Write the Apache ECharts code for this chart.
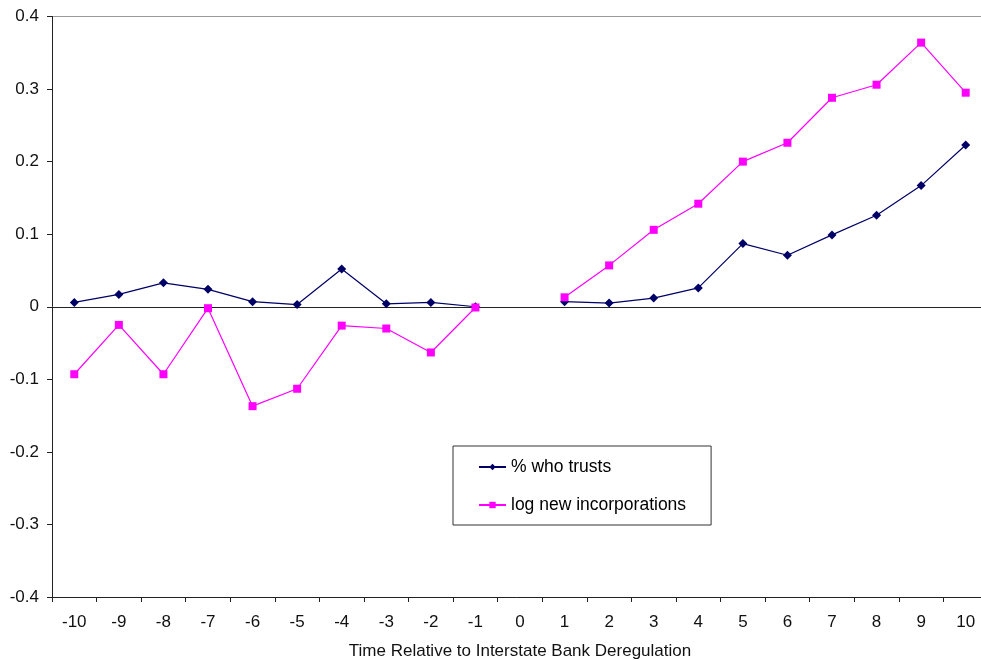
<!DOCTYPE html>
<html><head><meta charset="utf-8">
<script src="https://cdn.jsdelivr.net/npm/echarts@6/dist/echarts.min.js"></script>
<style>html,body{margin:0;padding:0;background:#fff}#c{width:981px;height:660px}</style>
</head><body><div id="c"></div>
<script>
const categories = ['-10','-9','-8','-7','-6','-5','-4','-3','-2','-1','0','1','2','3','4','5','6','7','8','9','10'];
const trusts = [0.006,0.017,0.033,0.024,0.007,0.003,0.052,0.004,0.006,0.000,null,0.007,0.005,0.012,0.026,0.087,0.071,0.099,0.126,0.167,0.223];
const incorporations = [-0.093,-0.025,-0.093,-0.002,-0.137,-0.113,-0.026,-0.030,-0.063,-0.001,null,0.013,0.057,0.106,0.142,0.200,0.226,0.288,0.306,0.364,0.295];
const yTicks = [-0.4,-0.3,-0.2,-0.1,0,0.1,0.2,0.3,0.4];
const seriesNames = ['% who trusts','log new incorporations'];
const xName = 'Time Relative to Interstate Bank Deregulation';

const font = 'Liberation Sans, Arial, sans-serif';
const chart = echarts.init(document.getElementById('c'));
chart.setOption({
  animation: false,
  backgroundColor: '#fff',
  grid: {left: 52, right: -7, top: 16.5, bottom: 63, containLabel: false, outerBoundsMode: 'none'},
  legend: {
    orient: 'vertical', left: 453, top: 446,
    padding: [12, 25, 11, 25], itemGap: 20,
    itemWidth: 27, itemHeight: 8,
    borderColor: '#333', borderWidth: 1,
    textStyle: {fontFamily: font, fontSize: 17.5, color: '#000'},
    data: seriesNames
  },
  xAxis: {
    type: 'category', data: categories, boundaryGap: true,
    name: xName, nameLocation: 'middle', nameGap: 46,
    nameTextStyle: {fontFamily: font, fontSize: 17, color: '#111'},
    axisLine: {onZero: false, lineStyle: {color: '#222', width: 1}},
    axisTick: {show: true, length: 5, inside: false, alignWithLabel: false, lineStyle: {color: '#222'}},
    axisLabel: {fontFamily: font, fontSize: 17, color: '#111', margin: 17},
    splitLine: {show: false}
  },
  yAxis: {
    type: 'value', min: -0.4, max: 0.4, interval: 0.1,
    axisLine: {show: true, lineStyle: {color: '#222'}},
    axisTick: {show: true, length: 5, lineStyle: {color: '#222'}},
    axisLabel: {fontFamily: font, fontSize: 17, color: '#111', margin: 13,
      formatter: v => { const r = Math.round(v*10)/10; return yTicks.includes(r) ? String(r) : ''; }},
    splitLine: {show: true, showMinLine: false, showMaxLine: true,
      lineStyle: {color: ['rgba(0,0,0,0)','rgba(0,0,0,0)','rgba(0,0,0,0)','#222','rgba(0,0,0,0)','rgba(0,0,0,0)','rgba(0,0,0,0)','#999'], width: 1}}
  },
  series: [
    {name: seriesNames[0], type: 'line', data: trusts, connectNulls: false,
     symbol: 'diamond', symbolSize: 9, color: '#000066',
     lineStyle: {width: 1.2, color: '#000066'}, itemStyle: {color: '#000066'}},
    {name: seriesNames[1], type: 'line', data: incorporations, connectNulls: false,
     symbol: 'rect', symbolSize: 8, color: '#ff00ff',
     lineStyle: {width: 1.2, color: '#ff00ff'}, itemStyle: {color: '#ff00ff'}}
  ]
});
</script></body></html>
